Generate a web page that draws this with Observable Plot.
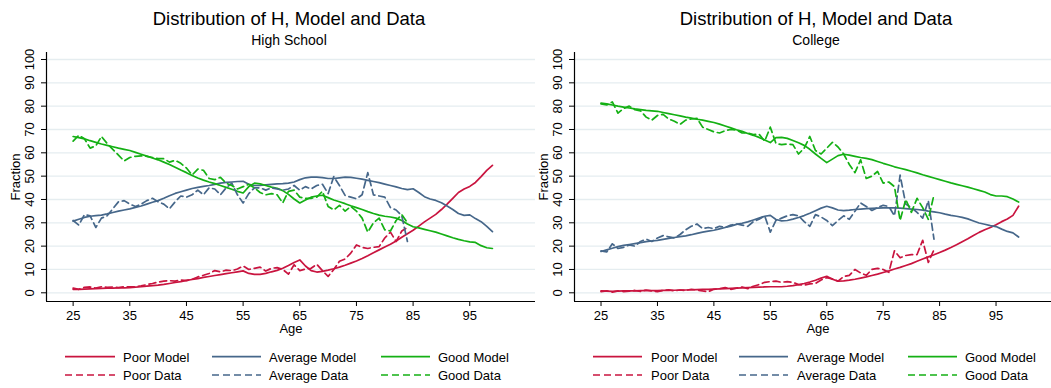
<!DOCTYPE html>
<html>
<head>
<meta charset="utf-8">
<script src="https://cdn.jsdelivr.net/npm/d3@7"></script>
<script src="https://cdn.jsdelivr.net/npm/@observablehq/plot@0.6"></script>
<style>
  html, body { margin: 0; padding: 0; background: #fff; }
  #wrap { position: relative; width: 1051px; height: 388px; overflow: hidden;
          font-family: "Liberation Sans", Arial, Helvetica, sans-serif; }
  #wrap .panel { position: absolute; top: 0; }
  #overlay { position: absolute; left: 0; top: 0; pointer-events: none; }
</style>
</head>
<body>
<div id="wrap"></div>
<script>
// Ages: model simulated to 99, survey data observed to 84
const ageModel = d3.range(25, 100);
const ageData = d3.range(25, 85);

// Axis ticks
const xTicks = [25, 35, 45, 55, 65, 75, 85, 95];
const yTicks = [0, 10, 20, 30, 40, 50, 60, 70, 80, 90, 100];

// ---- High School ----
const hsPoorModel = [
  1.5, 1.5, 1.6, 1.7, 1.8, 1.9, 2, 2, 2.1, 2.1,
  2.2, 2.4, 2.6, 2.9, 3.1, 3.3, 3.6, 4, 4.4, 4.8,
  5.3, 5.7, 6.1, 6.6, 7, 7.4, 7.8, 8.2, 8.6, 9,
  9.4, 8.3, 7.9, 7.9, 8.3, 9, 9.6, 10.5, 11.7, 13,
  14.1, 11.5, 9.5, 8.9, 9.2, 9.7, 10.3, 11, 11.8, 12.7,
  13.6, 14.7, 15.9, 17.2, 18.4, 19.6, 20.8, 22.2, 23.8, 25.3,
  26.8, 28.6, 30.4, 32, 33.6, 35.7, 38, 40.5, 43, 44.5,
  45.6, 47.3, 49.8, 52.5, 54.6
];
const hsAverageModel = [
  30.7, 31.5, 32.3, 32.8, 33.1, 33.3, 33.8, 34.4, 35, 35.5,
  36, 36.6, 37.2, 38, 38.8, 39.5, 40.5, 41.6, 42.6, 43.3,
  44, 44.7, 45.2, 45.6, 46, 46.5, 47, 47.3, 47.5, 47.7,
  47.8, 46.5, 46, 46, 46.3, 46.5, 46.7, 46.8, 47, 47.5,
  48.5, 49.3, 49.6, 49.6, 49.4, 49, 49, 49.3, 49.6, 49.5,
  49.1, 48.7, 48.2, 47.7, 47.2, 46.6, 46, 45.4, 44.7, 44.2,
  44.6, 43, 41.2, 40.2, 39.6, 38.6, 37.2, 35.7, 34, 33.2,
  33.4, 31.8, 30.5, 28.5, 26.2
];
const hsGoodModel = [
  67, 66.5, 66, 65.2, 64.5, 63.8, 63.2, 62.6, 62, 61.5,
  61, 60.2, 59.4, 58.6, 57.8, 57, 56, 55, 53.8, 52.6,
  51.5, 50.3, 49.2, 48.3, 47.5, 46.8, 46, 45.2, 44.4, 43.5,
  42.8, 45.5, 47, 46.7, 46, 45.3, 44.8, 43.8, 42.2, 40.2,
  38.5, 39.8, 41, 41.5, 41.8, 40.8, 39.8, 39, 38.2, 37.3,
  36.5, 35.7, 34.8, 34, 33.3, 32.8, 32.5, 32, 31, 29.5,
  28.3, 27.8, 27.2, 26.6, 26, 25.2, 24.4, 23.6, 22.9, 22.3,
  21.8, 21.6, 20.2, 19.3, 19
];
const hsPoorData = [
  2, 1.5, 2.3, 2.5, 2, 2.6, 2.3, 2.5, 2.2, 2.6,
  2.5, 2.6, 3, 3.5, 4, 4.6, 5, 5.2, 5, 5.5,
  5.2, 5.8, 6.8, 7.5, 8.3, 9.5, 9, 9.7, 9.5, 10.2,
  11.5, 10, 10.5, 11, 9.3, 10.5, 10.8, 10, 8, 12,
  9.5, 10.2, 10.5, 12.2, 9.5, 7, 10, 13.5, 14.5, 17,
  20.5, 19.5, 19, 19.5, 19.8, 23.5, 26, 22, 26.5, 28
];
const hsAverageData = [
  31, 29, 33.5, 33, 28, 32, 33, 36, 39, 39.5,
  38, 37, 38, 39.5, 40.5, 39, 38, 36, 39, 41.5,
  41, 42, 44, 42, 45, 44.5, 42, 45, 47, 42,
  38.5, 42.5, 45, 45, 44, 45, 44.5, 44, 44.5, 46,
  44, 45.5, 44.5, 46, 46.5, 42.5, 49.8, 46, 41.7, 41,
  40.3, 42, 51.5, 42, 41.5, 41, 36.5, 35.5, 33, 22
];
const hsGoodData = [
  65, 67.5, 66, 62, 63, 67, 64, 61.5, 59, 56.5,
  58, 58.5, 58.7, 58.5, 58, 57.5, 57.5, 56, 56.8, 55.5,
  53.5, 50.5, 53, 52.5, 49, 48.5, 49.5, 47, 46, 44.5,
  45.5, 46.5, 45, 43, 42, 42.5, 42, 38.5, 43.5, 44,
  41, 40.5, 40.5, 41, 43.5, 37, 35.5, 37.5, 35, 37,
  35, 32, 26, 30, 32, 27, 26.5, 31, 33.5, 30
];

// ---- College ----
const colPoorModel = [
  0.8, 0.7, 0.6, 0.7, 0.8, 0.8, 0.8, 0.9, 0.9, 0.9,
  0.9, 1, 1, 1.1, 1.2, 1.2, 1.3, 1.4, 1.5, 1.5,
  1.6, 1.7, 1.8, 1.9, 2, 2.1, 2.2, 2.3, 2.4, 2.5,
  2.6, 2.6, 2.6, 2.8, 3.1, 3.5, 4, 4.6, 5.4, 6.3,
  7.1, 5.8, 5, 5.1, 5.4, 5.8, 6.3, 6.8, 7.4, 8,
  8.7, 9.4, 10.2, 10.9, 11.7, 12.5, 13.5, 14.5, 15.4, 16.3,
  17.3, 18.3, 19.4, 20.6, 21.9, 23.2, 24.6, 25.9, 27, 28,
  29.2, 30.5, 31.6, 33.2, 37.1
];
const colAverageModel = [
  17.7, 18.4, 19.1, 19.8, 20.3, 20.7, 21.1, 21.5, 21.9, 22.2,
  22.5, 22.9, 23.3, 23.7, 24.1, 24.4, 24.9, 25.5, 26, 26.4,
  26.8, 27.4, 28, 28.6, 29.3, 29.8, 30.4, 31.2, 32, 32.8,
  33.2, 31.4, 30.8, 31, 31.6, 32.3, 33.1, 34.1, 35.2, 36.3,
  37.1, 36.4, 35.5, 35.2, 35.4, 35.7, 35.9, 36.1, 36.2, 36.3,
  36.4, 36.4, 36.4, 36.3, 36.1, 35.9, 35.7, 35.4, 35, 34.7,
  34.3, 33.7, 33.2, 32.8, 32.3, 31.7, 30.8, 29.9, 29.4, 28.8,
  28.4, 27.3, 26.3, 25.7, 23.9
];
const colGoodModel = [
  81.3, 81, 80.5, 80, 79.6, 79.2, 78.8, 78.5, 78.2, 78,
  77.8, 77.3, 76.8, 76.3, 75.8, 75.3, 74.9, 74.4, 74, 73.5,
  73, 72.3, 71.5, 70.7, 69.9, 69.2, 68.3, 67.5, 66.6, 65.5,
  64.4, 66.5, 66.6, 66.2, 65.3, 64.3, 63.2, 61.5, 59.5, 57.6,
  55.8, 57.3, 58.8, 59.4, 59, 58.5, 58, 57.6, 57.1, 56.3,
  55.5, 54.8, 54, 53.4, 52.8, 52.1, 51.4, 50.6, 49.9, 49.2,
  48.5, 47.8, 47.1, 46.5, 45.9, 45.3, 44.6, 43.9, 43.2, 42.1,
  41.5, 41.5, 41.2, 40.2, 38.9
];
const colPoorData = [
  0.5, 0.8, 0.3, 0.8, 0.5, 0.7, 1, 0.6, 1.2, 0.8,
  0.5, 1, 1.3, 0.8, 1.2, 1, 1.5, 1.2, 0.8, 0.5,
  1.5, 1.8, 2.2, 1.5, 2, 2.5, 1.8, 2.8, 3.5, 4.5,
  4.8, 5, 4.5, 4.8, 4.5, 3.5, 3.3, 3.8, 4, 5.5,
  6.5, 6, 5, 7, 7.5, 10, 8.5, 7.5, 10, 10.5,
  10, 8.8, 18, 15, 16, 16.4, 16.4, 22.5, 13, 18.5
];
const colAverageData = [
  18, 17.5, 21, 19, 19.5, 20.5, 20, 22, 23, 22,
  23.5, 24.5, 24, 23.5, 25, 27, 28.5, 29.5, 27.5, 28,
  27.5, 28.5, 28, 29, 29.5, 29, 28.5, 30.5, 31.5, 33,
  26, 31, 32, 33, 33.5, 33, 30.5, 28.5, 33.5, 32.5,
  31, 28.8, 31, 33, 31.5, 35, 38.5, 37, 35.3, 36.5,
  37.5, 37, 33, 50.4, 38, 36.5, 34.5, 32, 39.5, 23
];
const colGoodData = [
  81, 80.5, 81.8, 77, 79, 80, 78.5, 78, 75.3, 74,
  76, 76.5, 74.5, 73.5, 72.2, 74, 74.5, 74.8, 71, 70,
  69, 68.5, 69.5, 70, 69.8, 68.5, 68.5, 67.8, 68, 65,
  71, 64, 63.5, 63.8, 63.5, 59.5, 62, 67, 61, 59.5,
  62, 64.5, 62.5, 59.5, 55, 51.5, 57, 49, 50, 52,
  47, 47.5, 45.5, 31, 40, 34.5, 40.5, 36.5, 31.5, 42
];

// Series labels and styling
const seriesNames = ["Poor Model", "Average Model", "Good Model", "Poor Data", "Average Data", "Good Data"];
const seriesColors = ["#c9143f", "#46678a", "#14b014", "#c9143f", "#46678a", "#14b014"];
const dash = "7,4";

const xDomain = [20.3, 106.6];
const yDomain = [-3.73, 103];

function longRows(series) {
  const rows = [];
  series.forEach(([name, ages, values]) => {
    values.forEach((v, i) => rows.push({series: name, age: ages[i], value: v}));
  });
  return rows;
}

function panel(series, width) {
  const rows = longRows(series);
  const lineMarks = seriesNames.map((name, i) =>
    Plot.line(rows.filter(d => d.series === name), {
      x: "age", y: "value",
      stroke: seriesColors[i],
      strokeWidth: 1.7,
      strokeDasharray: i >= 3 ? dash : null,
      strokeLinejoin: "round"
    })
  );
  return Plot.plot({
    width, height: 345,
    marginLeft: 46, marginRight: 5, marginTop: 52, marginBottom: 44,
    x: {domain: xDomain},
    y: {domain: yDomain},
    style: {background: "transparent", overflow: "visible", color: "#000",
            fontFamily: "'Liberation Sans', Arial, Helvetica, sans-serif"},
    marks: [
      Plot.gridY(yTicks, {stroke: "#e5edf0", strokeOpacity: 1, strokeWidth: 1.3}),
      Plot.axisX(xTicks, {tickSize: 5, tickPadding: 4, fontSize: 13, label: null}),
      Plot.axisY(yTicks, {tickSize: 5, tickFormat: () => "", label: null}),
      Plot.text(yTicks, {y: d => d, text: d => String(d), frameAnchor: "left", dx: -17,
                         rotate: -90, fontSize: 13, textAnchor: "middle", lineAnchor: "middle"}),
      Plot.text(["Fraction"], {frameAnchor: "left", dx: -31, rotate: -90, fontSize: 13,
                               textAnchor: "middle", lineAnchor: "middle"}),
      Plot.text(["Age"], {frameAnchor: "bottom", dy: 22, fontSize: 13, lineAnchor: "top"}),
      Plot.ruleX([xDomain[0]], {stroke: "#000", strokeWidth: 1.2}),
      Plot.ruleY([yDomain[0]], {stroke: "#000", strokeWidth: 1.2}),
      ...lineMarks
    ]
  });
}

const hsSeries = [
  ["Poor Model", ageModel, hsPoorModel],
  ["Average Model", ageModel, hsAverageModel],
  ["Good Model", ageModel, hsGoodModel],
  ["Poor Data", ageData, hsPoorData],
  ["Average Data", ageData, hsAverageData],
  ["Good Data", ageData, hsGoodData]
];
const colSeries = [
  ["Poor Model", ageModel, colPoorModel],
  ["Average Model", ageModel, colAverageModel],
  ["Good Model", ageModel, colGoodModel],
  ["Poor Data", ageData, colPoorData],
  ["Average Data", ageData, colAverageData],
  ["Good Data", ageData, colGoodData]
];

const wrap = document.getElementById("wrap");
const left = panel(hsSeries, 540);
left.classList.add("panel");
left.style.left = "0px";
wrap.appendChild(left);

const right = panel(colSeries, 538);
right.classList.add("panel");
right.style.left = "528px";
wrap.appendChild(right);

// Titles and legends
const overlay = d3.create("svg")
  .attr("id", "overlay")
  .attr("width", 1051).attr("height", 388)
  .style("font-family", "'Liberation Sans', Arial, Helvetica, sans-serif");

const panelsMeta = [
  {cx: 289, subtitle: "High School",
   swatch: [[65, 115], [212, 261], [381, 430]], textX: [123, 269, 438]},
  {cx: 816, subtitle: "College",
   swatch: [[593, 642], [739, 788], [908, 957]], textX: [651, 797, 965]}
];

panelsMeta.forEach(p => {
  overlay.append("text").attr("x", p.cx).attr("y", 24.5)
    .attr("text-anchor", "middle").attr("font-size", 18.5).attr("fill", "#000")
    .text("Distribution of H, Model and Data");
  overlay.append("text").attr("x", p.cx).attr("y", 44.5)
    .attr("text-anchor", "middle").attr("font-size", 14).attr("fill", "#000")
    .text(p.subtitle);
  const rowsY = [356.7, 375];
  const baseY = [362, 380];
  seriesNames.forEach((name, i) => {
    const col = i % 3, row = Math.floor(i / 3);
    overlay.append("line")
      .attr("x1", p.swatch[col][0]).attr("x2", p.swatch[col][1])
      .attr("y1", rowsY[row]).attr("y2", rowsY[row])
      .attr("stroke", seriesColors[i]).attr("stroke-width", 1.7)
      .attr("stroke-dasharray", row === 1 ? dash : null);
    overlay.append("text").attr("x", p.textX[col]).attr("y", baseY[row])
      .attr("font-size", 13).attr("fill", "#000").text(name);
  });
});

wrap.appendChild(overlay.node());
</script>
</body>
</html>
